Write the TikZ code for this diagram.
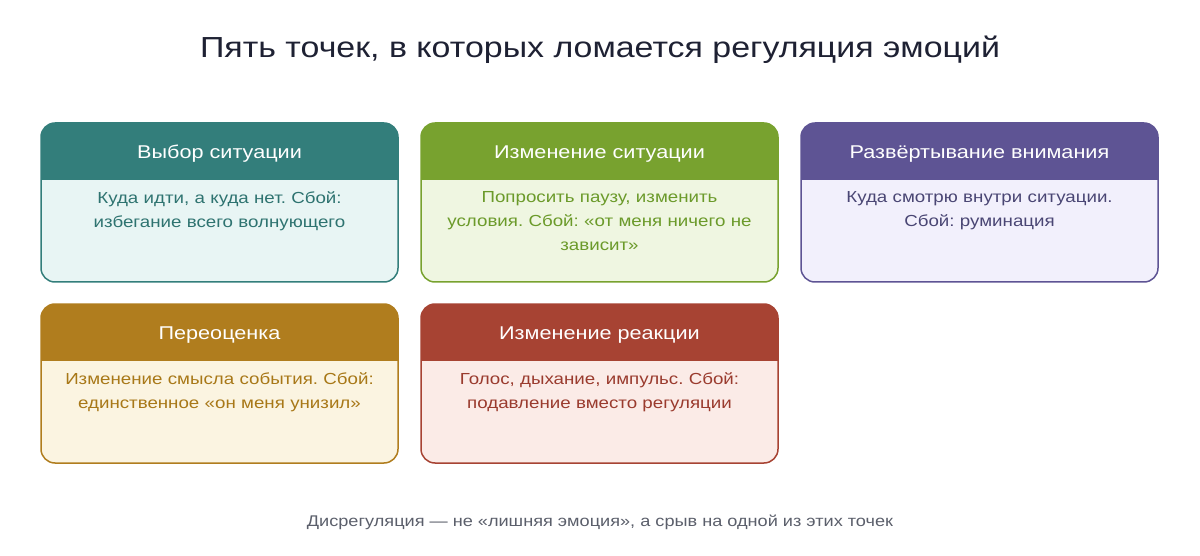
\documentclass[tikz,border=0pt]{standalone}
\usepackage{fontspec}
\setmainfont{Liberation Sans}[FakeStretch=1.17]
\frenchspacing
\usetikzlibrary{positioning}
\definecolor{titleInk}{HTML}{1E2133}
\definecolor{footInk}{HTML}{5B5F6B}
\definecolor{tealHd}{HTML}{337E7B}\definecolor{tealBg}{HTML}{E8F5F4}\definecolor{tealTx}{HTML}{2E7370}
\definecolor{greenHd}{HTML}{78A22F}\definecolor{greenBg}{HTML}{EFF6E1}\definecolor{greenTx}{HTML}{6B9A2A}
\definecolor{purpleHd}{HTML}{5E5494}\definecolor{purpleBg}{HTML}{F2F0FC}\definecolor{purpleTx}{HTML}{4A4674}
\definecolor{goldHd}{HTML}{B07D1E}\definecolor{goldBg}{HTML}{FBF4E1}\definecolor{goldTx}{HTML}{A87818}
\definecolor{redHd}{HTML}{A74333}\definecolor{redBg}{HTML}{FBEBE7}\definecolor{redTx}{HTML}{9A3B2E}
% card: name, left, top, colour, header, body
\newcommand\card[6]{%
	\fill[#4Bg, rounded corners=14pt] (#2, #3) rectangle ++(357, 159);
	\begin{scope}
		\clip[rounded corners=14pt] (#2, #3) rectangle ++(357, 159);
		\fill[#4Hd] (#2, #3) rectangle ++(357, 57);
	\end{scope}
	\draw[#4Hd, line width=1.5pt, rounded corners=14pt] (#2, #3) rectangle ++(357, 159);
	\node[hdtext] (#1) at (#2+178.5, #3+31) {#5};
	\node[bodytext, text=#4Tx, below=29pt of #1.south] (#1t) {#6};
}
\tikzset{
	hdtext/.style={text=white, font=\fontsize{18.5}{22}\selectfont, inner sep=0pt},
	bodytext/.style={align=center, text width=340pt, inner sep=0pt, font=\fontsize{16}{24}\selectfont},
}

\begin{document}
\begin{tikzpicture}[x=1pt, y=-1pt]
	%%%%% START %%%%%
	\useasboundingbox[fill=white] (0, 0) rectangle (1200, 556);
	
	\node[text=titleInk, font=\fontsize{29}{34}\selectfont] (title) at (600, 50) {Пять точек, в которых ломается регуляция эмоций};
	
	\card{sel}{41}{123}{teal}{Выбор ситуации}{Куда идти, а куда нет. Сбой:\\избегание всего волнующего}
	\card{chg}{421}{123}{green}{Изменение ситуации}{Попросить паузу, изменить\\условия. Сбой: «от меня ничего не\\зависит»}
	\card{att}{801}{123}{purple}{Развёртывание внимания}{Куда смотрю внутри ситуации.\\Сбой: руминация}
	
	\node[text=footInk, font=\fontsize{15.5}{18}\selectfont] (foot) at (600, 522) {Дисрегуляция — не «лишняя эмоция», а срыв на одной из этих точек};
	
	\card{reap}{41}{304}{gold}{Переоценка}{Изменение смысла события. Сбой:\\единственное «он меня унизил»}
	\card{resp}{421}{304}{red}{Изменение реакции}{Голос, дыхание, импульс. Сбой:\\подавление вместо регуляции}
	%%%%% END %%%%%
\end{tikzpicture}
\end{document}
